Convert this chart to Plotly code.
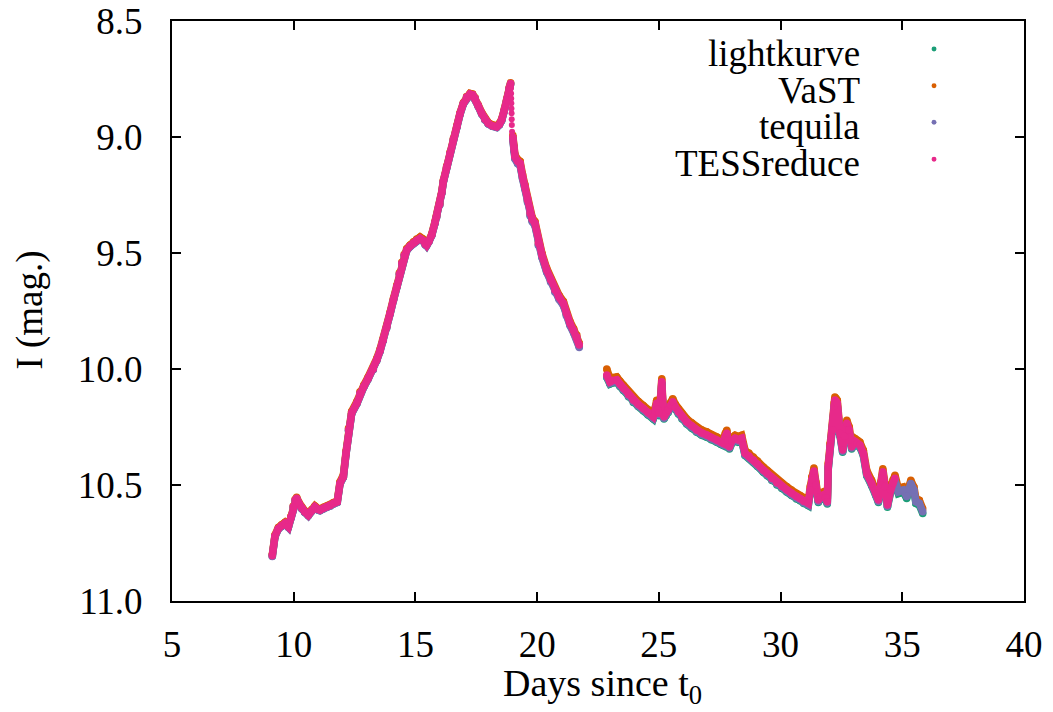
import plotly.graph_objects as go

days = [
    9.12, 9.23, 9.37, 9.50, 9.64, 9.78, 9.88, 9.98, 10.06, 10.12,
    10.22, 10.33, 10.45, 10.60, 10.74, 10.87, 11.00, 11.08, 11.22, 11.36,
    11.50, 11.63, 11.79, 11.90, 12.04, 12.15, 12.25, 12.38, 12.59, 12.72,
    12.88, 13.06, 13.27, 13.41, 13.55, 13.68, 13.82, 13.96, 14.10, 14.23,
    14.34, 14.44, 14.54, 14.64, 14.78, 14.92, 15.05, 15.19, 15.30, 15.40,
    15.46, 15.55, 15.67, 15.80, 15.87, 16.00, 16.08, 16.15, 16.28, 16.42,
    16.56, 16.70, 16.83, 16.97, 17.10, 17.24, 17.35, 17.45, 17.58, 17.72,
    17.85, 17.99, 18.15, 18.34, 18.45, 18.54, 18.65, 18.75, 18.85, 18.91,
    None,
    19.00, 19.05, 19.09, 19.20, 19.30, 19.40, 19.50, 19.60, 19.71, 19.80,
    19.91, 20.05, 20.20, 20.39, 20.55, 20.73, 20.90, 21.08, 21.20, 21.35,
    21.50, 21.63, 21.73,
    None,
    22.86, 22.99, 23.10, 23.27, 23.40, 23.54, 23.75, 23.95, 24.15, 24.36,
    24.55, 24.77, 24.85, 24.91, 24.96, 25.01, 25.08, 25.12, 25.16, 25.21,
    25.30, 25.39, 25.50, 25.57, 25.68, 25.80, 25.95, 26.14, 26.35, 26.55,
    26.75, 26.97, 27.15, 27.38, 27.55, 27.65, 27.73, 27.79, 27.85, 27.90,
    28.00, 28.13, 28.25, 28.40, 28.54, 28.70, 28.88, 29.05, 29.29, 29.45,
    29.64, 29.85, 30.05, 30.25, 30.45, 30.65, 30.80, 30.95, 31.14, 31.22,
    31.28, 31.37, 31.45, 31.55, 31.65, 31.76, 31.85, 31.92, 31.96, 32.03,
    32.14, 32.20, 32.23, 32.28, 32.33, 32.44, 32.55, 32.63, 32.72, 32.82,
    32.92, 33.06, 33.16, 33.26, 33.40, 33.54, 33.74, 33.92, 34.02, 34.12,
    34.20, 34.29, 34.39, 34.52, 34.62, 34.70, 34.84, 35.04, 35.18, 35.35,
    35.48, 35.56, 35.70, 35.84,
]

lightkurve = [
    10.807, 10.722, 10.689, 10.677, 10.667, 10.682, 10.642, 10.596, 10.567, 10.559,
    10.582, 10.602, 10.617, 10.632, 10.612, 10.596, 10.607, 10.610, 10.602, 10.596,
    10.590, 10.581, 10.574, 10.495, 10.466, 10.365, 10.265, 10.192, 10.150, 10.107,
    10.077, 10.042, 10.002, 9.963, 9.922, 9.877, 9.822, 9.762, 9.702, 9.647,
    9.592, 9.546, 9.512, 9.489, 9.472, 9.458, 9.447, 9.439, 9.447, 9.464,
    9.468, 9.452, 9.424, 9.372, 9.345, 9.292, 9.242, 9.192, 9.132, 9.072,
    9.012, 8.958, 8.902, 8.857, 8.830, 8.817, 8.820, 8.835, 8.867, 8.900,
    8.926, 8.943, 8.953, 8.958, 8.947, 8.929, 8.887, 8.842, 8.792, 8.771,
    None,
    9.006, 9.056, 9.091, 9.111, 9.119, 9.176, 9.220, 9.276, 9.336, 9.361,
    9.378, 9.464, 9.516, 9.579, 9.621, 9.665, 9.696, 9.723, 9.766, 9.809,
    9.841, 9.867, 9.903,
    None,
    10.036, 10.065, 10.060, 10.057, 10.075, 10.093, 10.120, 10.144, 10.162, 10.180,
    10.198, 10.216, 10.190, 10.158, 10.185, 10.201, 10.130, 10.065, 10.160, 10.216,
    10.200, 10.187, 10.165, 10.151, 10.175, 10.194, 10.215, 10.237, 10.255, 10.273,
    10.285, 10.294, 10.305, 10.316, 10.325, 10.330, 10.300, 10.287, 10.320, 10.345,
    10.320, 10.309, 10.315, 10.309, 10.373, 10.385, 10.402, 10.420, 10.445, 10.460,
    10.481, 10.500, 10.515, 10.530, 10.545, 10.560, 10.568, 10.580, 10.589, 10.530,
    10.488, 10.450, 10.510, 10.575, 10.560, 10.553, 10.565, 10.582, 10.430, 10.345,
    10.273, 10.170, 10.144, 10.150, 10.158, 10.288, 10.359, 10.300, 10.244, 10.273,
    10.345, 10.323, 10.330, 10.338, 10.373, 10.460, 10.503, 10.546, 10.575, 10.510,
    10.453, 10.517, 10.596, 10.532, 10.500, 10.481, 10.537, 10.530, 10.558, 10.501,
    10.530, 10.580, 10.587, 10.623,
]

vast = [
    10.801, 10.716, 10.683, 10.671, 10.661, 10.676, 10.636, 10.590, 10.561, 10.553,
    10.576, 10.596, 10.611, 10.626, 10.606, 10.590, 10.601, 10.604, 10.596, 10.590,
    10.584, 10.575, 10.568, 10.487, 10.457, 10.355, 10.255, 10.183, 10.141, 10.098,
    10.069, 10.034, 9.994, 9.955, 9.914, 9.870, 9.815, 9.755, 9.695, 9.640,
    9.585, 9.540, 9.505, 9.482, 9.465, 9.451, 9.440, 9.431, 9.439, 9.457,
    9.461, 9.445, 9.418, 9.366, 9.339, 9.286, 9.236, 9.186, 9.126, 9.066,
    9.006, 8.952, 8.897, 8.852, 8.825, 8.812, 8.815, 8.830, 8.862, 8.894,
    8.920, 8.937, 8.947, 8.952, 8.941, 8.923, 8.881, 8.836, 8.787, 8.766,
    None,
    8.992, 9.042, 9.077, 9.097, 9.105, 9.162, 9.206, 9.262, 9.322, 9.347,
    9.364, 9.450, 9.502, 9.565, 9.607, 9.651, 9.682, 9.709, 9.752, 9.795,
    9.827, 9.853, 9.889,
    None,
    10.000, 10.040, 10.037, 10.034, 10.052, 10.070, 10.097, 10.121, 10.139, 10.157,
    10.175, 10.193, 10.167, 10.135, 10.162, 10.178, 10.107, 10.042, 10.137, 10.193,
    10.177, 10.164, 10.142, 10.128, 10.152, 10.171, 10.192, 10.214, 10.232, 10.250,
    10.262, 10.271, 10.282, 10.293, 10.302, 10.307, 10.277, 10.264, 10.297, 10.322,
    10.297, 10.286, 10.292, 10.286, 10.350, 10.362, 10.379, 10.397, 10.422, 10.437,
    10.458, 10.477, 10.492, 10.507, 10.522, 10.537, 10.545, 10.557, 10.566, 10.507,
    10.465, 10.427, 10.487, 10.552, 10.537, 10.530, 10.542, 10.559, 10.407, 10.322,
    10.250, 10.147, 10.121, 10.127, 10.135, 10.265, 10.336, 10.277, 10.221, 10.250,
    10.322, 10.300, 10.307, 10.315, 10.350, 10.437, 10.480, 10.523, 10.552, 10.487,
    10.430, 10.494, 10.573, 10.509, 10.477, 10.458, 10.516, 10.509, 10.537, 10.480,
    10.509, 10.559, 10.566, 10.602,
]

tequila = [
    10.808, 10.723, 10.690, 10.678, 10.668, 10.683, 10.643, 10.597, 10.568, 10.560,
    10.583, 10.603, 10.618, 10.633, 10.613, 10.597, 10.608, 10.611, 10.603, 10.597,
    10.591, 10.582, 10.575, 10.496, 10.467, 10.366, 10.266, 10.193, 10.151, 10.108,
    10.078, 10.043, 10.003, 9.964, 9.923, 9.878, 9.823, 9.763, 9.703, 9.648,
    9.593, 9.547, 9.513, 9.490, 9.473, 9.459, 9.448, 9.440, 9.448, 9.465,
    9.469, 9.453, 9.425, 9.373, 9.346, 9.293, 9.243, 9.193, 9.133, 9.073,
    9.013, 8.959, 8.903, 8.858, 8.831, 8.818, 8.821, 8.836, 8.868, 8.901,
    8.927, 8.944, 8.954, 8.959, 8.948, 8.930, 8.888, 8.843, 8.793, 8.772,
    None,
    9.010, 9.060, 9.095, 9.115, 9.123, 9.180, 9.224, 9.280, 9.340, 9.365,
    9.382, 9.468, 9.520, 9.583, 9.625, 9.669, 9.700, 9.727, 9.770, 9.813,
    9.845, 9.871, 9.907,
    None,
    10.032, 10.061, 10.056, 10.053, 10.071, 10.089, 10.116, 10.140, 10.158, 10.176,
    10.194, 10.212, 10.186, 10.154, 10.181, 10.197, 10.126, 10.061, 10.156, 10.212,
    10.196, 10.183, 10.161, 10.147, 10.171, 10.190, 10.211, 10.233, 10.251, 10.269,
    10.281, 10.290, 10.301, 10.312, 10.321, 10.326, 10.296, 10.283, 10.316, 10.341,
    10.316, 10.305, 10.311, 10.305, 10.369, 10.381, 10.398, 10.416, 10.441, 10.456,
    10.477, 10.496, 10.511, 10.526, 10.541, 10.556, 10.564, 10.576, 10.585, 10.526,
    10.484, 10.446, 10.506, 10.571, 10.556, 10.549, 10.561, 10.578, 10.426, 10.341,
    10.269, 10.166, 10.140, 10.146, 10.154, 10.284, 10.355, 10.296, 10.240, 10.269,
    10.341, 10.319, 10.326, 10.334, 10.369, 10.456, 10.499, 10.542, 10.571, 10.506,
    10.449, 10.513, 10.592, 10.528, 10.496, 10.477, 10.529, 10.522, 10.550, 10.493,
    10.522, 10.572, 10.579, 10.615,
]

tessreduce = [
    10.805, 10.720, 10.687, 10.675, 10.665, 10.680, 10.640, 10.594, 10.565, 10.557,
    10.580, 10.600, 10.615, 10.630, 10.610, 10.594, 10.605, 10.608, 10.600, 10.594,
    10.588, 10.579, 10.572, 10.493, 10.464, 10.363, 10.263, 10.190, 10.148, 10.105,
    10.075, 10.040, 10.000, 9.961, 9.920, 9.875, 9.820, 9.760, 9.700, 9.645,
    9.590, 9.544, 9.510, 9.487, 9.470, 9.456, 9.445, 9.437, 9.445, 9.462,
    9.466, 9.450, 9.422, 9.370, 9.343, 9.290, 9.240, 9.190, 9.130, 9.070,
    9.010, 8.956, 8.900, 8.855, 8.828, 8.815, 8.818, 8.833, 8.865, 8.898,
    8.924, 8.941, 8.951, 8.956, 8.945, 8.927, 8.885, 8.840, 8.790, 8.769,
    None,
    9.000, 9.050, 9.085, 9.105, 9.113, 9.170, 9.214, 9.270, 9.330, 9.355,
    9.372, 9.458, 9.510, 9.573, 9.615, 9.659, 9.690, 9.717, 9.760, 9.803,
    9.835, 9.861, 9.897,
    None,
    10.026, 10.055, 10.050, 10.047, 10.065, 10.083, 10.110, 10.134, 10.152, 10.170,
    10.188, 10.206, 10.180, 10.148, 10.175, 10.191, 10.120, 10.055, 10.150, 10.206,
    10.190, 10.177, 10.155, 10.141, 10.165, 10.184, 10.205, 10.227, 10.245, 10.263,
    10.275, 10.284, 10.295, 10.306, 10.315, 10.320, 10.290, 10.277, 10.310, 10.335,
    10.310, 10.299, 10.305, 10.299, 10.363, 10.375, 10.392, 10.410, 10.435, 10.450,
    10.471, 10.490, 10.505, 10.520, 10.535, 10.550, 10.558, 10.570, 10.579, 10.520,
    10.478, 10.440, 10.500, 10.565, 10.550, 10.543, 10.555, 10.572, 10.420, 10.335,
    10.263, 10.160, 10.134, 10.140, 10.148, 10.278, 10.349, 10.290, 10.234, 10.263,
    10.335, 10.313, 10.320, 10.328, 10.363, 10.450, 10.493, 10.536, 10.565, 10.500,
    10.443, 10.507, 10.586, 10.522, 10.490, 10.471, None, None, None, None,
    None, None, None, None,
]

# sparse dots of the fast drop right after the second maximum (TESSreduce)
drop_days = [18.925, 18.93, 18.935, 18.94, 18.945, 18.95, 18.955, 18.96, 18.97]
drop_mag = [8.790, 8.812, 8.834, 8.855, 8.877, 8.898, 8.924, 8.948, 8.977]

series_names = ["lightkurve", "VaST", "tequila", "TESSreduce"]
series_values = [lightkurve, vast, tequila, tessreduce]
series_colors = ["#1b9e77", "#d95f02", "#7570b3", "#e7298a"]

FONT = "Liberation Serif, Times New Roman, Times, DejaVu Serif, serif"

fig = go.Figure()
for name, vals, col in zip(series_names, series_values, series_colors):
    fig.add_trace(go.Scatter(
        x=days, y=vals, name=name, mode="lines+markers",
        line=dict(color=col, width=7.5), marker=dict(color=col, size=7.5),
        connectgaps=False, showlegend=False,
    ))
fig.add_trace(go.Scatter(
    x=drop_days, y=drop_mag, mode="markers",
    marker=dict(color=series_colors[3], size=6), showlegend=False,
))

axis_common = dict(
    showgrid=False, zeroline=False, showline=True, linecolor="black", linewidth=2,
    mirror="ticks", ticks="inside", ticklen=9, tickwidth=1.5, tickcolor="black",
    tickfont=dict(family=FONT, size=37, color="black"),
)
fig.update_xaxes(range=[5, 40], tickmode="array", tickvals=[5, 10, 15, 20, 25, 30, 35, 40],
                 ticklabelstandoff=10, **axis_common)
fig.update_yaxes(range=[11.0, 8.5], tickmode="array",
                 tickvals=[8.5, 9.0, 9.5, 10.0, 10.5, 11.0],
                 ticktext=["8.5", "9.0", "9.5", "10.0", "10.5", "11.0"],
                 ticklabelstandoff=20, **axis_common)

annotations = [
    dict(text="Days since t<sub>0</sub>", x=0.505, y=-0.147, xref="paper", yref="paper",
         xanchor="center", yanchor="middle", showarrow=False,
         font=dict(family=FONT, size=38, color="black")),
    dict(text="I (mag.)", x=-0.167, y=0.502, xref="paper", yref="paper",
         xanchor="center", yanchor="middle", textangle=-90, showarrow=False,
         font=dict(family=FONT, size=37, color="black")),
]
shapes = []
legend_rows = [0.9517, 0.8884, 0.8253, 0.7616]
for name, col, yy in zip(series_names, series_colors, legend_rows):
    annotations.append(dict(text=name, x=0.81, y=yy - 0.008, xref="paper", yref="paper",
                            xanchor="right", yanchor="middle", showarrow=False,
                            font=dict(family=FONT, size=37, color="black")))
    shapes.append(dict(type="circle", xref="paper", yref="paper",
                       x0=0.8944 - 0.0029, x1=0.8944 + 0.0029,
                       y0=yy - 0.0043, y1=yy + 0.0043,
                       fillcolor=col, line=dict(width=0)))

fig.update_layout(
    width=1053, height=712,
    margin=dict(l=172, r=29, t=21, b=111, autoexpand=False),
    plot_bgcolor="white", paper_bgcolor="white",
    annotations=annotations, shapes=shapes,
)

fig.write_html("out.html")
